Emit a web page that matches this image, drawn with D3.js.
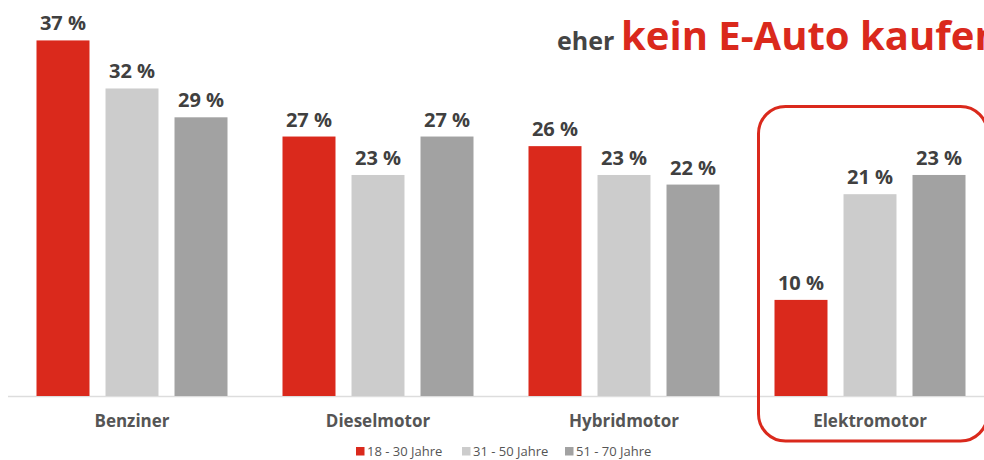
<!DOCTYPE html>
<html>
<head>
<meta charset="utf-8">
<script src="https://cdn.jsdelivr.net/npm/d3@7"></script>
<style>
  html, body { margin: 0; padding: 0; background: #fff; }
  svg { display: block; font-family: "Open Sans", "Noto Sans", sans-serif; }
</style>
</head>
<body>
<svg id="chart" width="984" height="460"></svg>
<script>
// ---- data ----
const categories = ["Benziner", "Dieselmotor", "Hybridmotor", "Elektromotor"];
const seriesNames = ["18 - 30 Jahre", "31 - 50 Jahre", "51 - 70 Jahre"];
const age18to30 = [37, 27, 26, 10];
const age31to50 = [32, 23, 23, 21];
const age51to70 = [29, 27, 22, 23];
const highlighted = "Elektromotor";

const seriesValues = [age18to30, age31to50, age51to70];
const colors = ["#da291c", "#cccccc", "#a2a2a2"];

const svg = d3.select("#chart");
const W = 984, H = 460;
const baseY = 396;

const x0 = d3.scaleBand().domain(categories).range([9, 993]).padding(0);
const x1 = d3.scaleBand().domain(seriesNames).range([27.5, 218.5]).paddingInner(0.232).paddingOuter(0);
const y = d3.scaleLinear().domain([0, 40]).range([baseY, baseY - 40 * 9.61]);
const color = d3.scaleOrdinal().domain(seriesNames).range(colors);

// ---- title ----
const title = svg.append("text").attr("x", 557).attr("y", 50).attr("font-weight", 700);
title.append("tspan").attr("font-size", 25).attr("fill", "#444").text("eher ");
title.append("tspan").attr("font-size", 40).attr("fill", "#da291c").attr("x", 621).text("kein E-Auto kaufen");

// ---- axis baseline ----
svg.append("line")
  .attr("x1", 8).attr("x2", W)
  .attr("y1", baseY + 0.5).attr("y2", baseY + 0.5)
  .attr("stroke", "#dddddd").attr("stroke-width", 1.5);

// ---- bars ----
const rows = [];
categories.forEach((c, i) => {
  seriesNames.forEach((s, j) => rows.push({ cat: c, series: s, value: seriesValues[j][i] }));
});

const g = svg.append("g");
g.selectAll("rect.bar").data(rows).join("rect")
  .attr("class", "bar")
  .attr("x", d => x0(d.cat) + x1(d.series))
  .attr("y", d => y(d.value))
  .attr("width", x1.bandwidth())
  .attr("height", d => y(0) - y(d.value))
  .attr("fill", d => color(d.series));

g.selectAll("text.val").data(rows).join("text")
  .attr("class", "val")
  .attr("x", d => x0(d.cat) + x1(d.series) + x1.bandwidth() / 2)
  .attr("y", d => y(d.value) - 10)
  .attr("text-anchor", "middle")
  .attr("font-size", 20)
  .attr("font-weight", 700)
  .attr("fill", "#404040")
  .text(d => d.value + " %");

// ---- category axis ----
const xAxis = d3.axisBottom(x0).tickSize(0).tickPadding(0);
const ax = svg.append("g").attr("transform", `translate(0, ${baseY})`).call(xAxis);
ax.select(".domain").remove();
ax.selectAll("text")
  .attr("dy", null)
  .attr("y", 31)
  .attr("font-family", "'Open Sans', sans-serif")
  .attr("font-size", 17)
  .attr("font-weight", 700)
  .attr("fill", "#555");

// ---- highlight frame ----
svg.append("rect")
  .attr("x", x0(highlighted) + 11.5)
  .attr("y", 106.5)
  .attr("width", 229)
  .attr("height", 334.5)
  .attr("rx", 27).attr("ry", 27)
  .attr("fill", "none")
  .attr("stroke", "#da291c")
  .attr("stroke-width", 3);

// ---- legend ----
const legendX = [356, 462, 565];
const lg = svg.append("g").selectAll("g").data(seriesNames).join("g")
  .attr("transform", (d, i) => `translate(${legendX[i]}, 447)`);
lg.append("rect").attr("width", 8.5).attr("height", 8.5).attr("fill", d => color(d));
lg.append("text").attr("x", 11).attr("y", 8.8)
  .attr("font-size", 13).attr("fill", "#555").text(d => d);
</script>
</body>
</html>
